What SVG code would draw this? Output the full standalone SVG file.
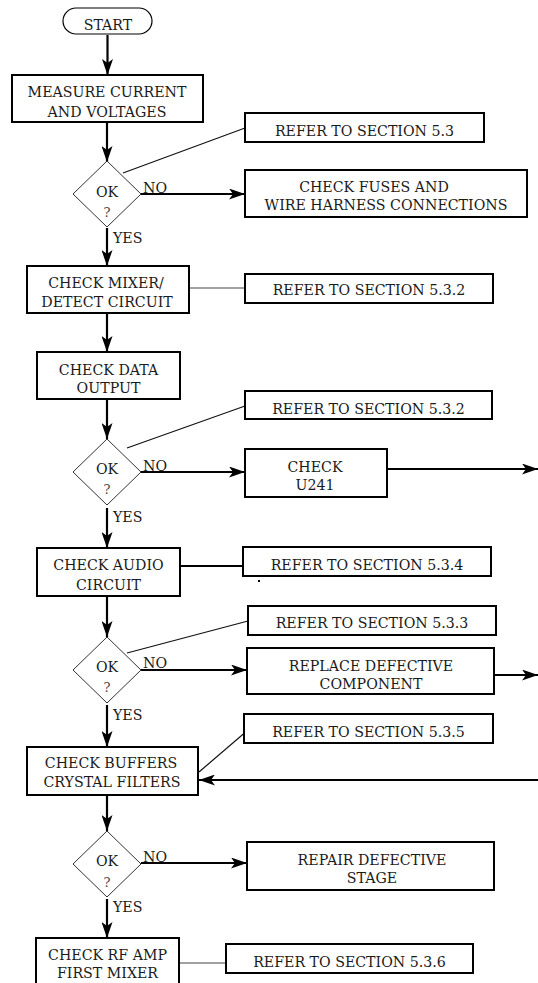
<svg xmlns="http://www.w3.org/2000/svg" width="538" height="983" viewBox="0 0 538 983">
<style>
text{font-family:'DejaVu Serif',serif;font-size:14.2px;fill:#1a1a1a;text-anchor:middle}
.box{fill:#fff;stroke:#000;stroke-width:2}
.dia{fill:#fff;stroke:#333;stroke-width:1}
.pill{fill:#fff;stroke:#000;stroke-width:1.2}
.flow{fill:none;stroke:#000;stroke-width:2.2}
.ref{fill:none;stroke:#111;stroke-width:1.2}
.refg{fill:none;stroke:#444;stroke-width:1.2}
.lbl{text-anchor:start}
.q{font-size:13px;fill:#444}
</style>
<defs>
<marker id="ah" viewBox="0 0 16 11" refX="16" refY="5.5" markerWidth="16" markerHeight="11" markerUnits="userSpaceOnUse" orient="auto">
<path d="M0,0 L16,5.5 L0,11 L4,5.5 z" fill="#000"/>
</marker>
</defs>
<rect width="538" height="983" fill="#fff"/>

<g id="connectors">
<line class="flow" x1="107.5" y1="35" x2="107.5" y2="75" marker-end="url(#ah)"/>
<line class="flow" x1="107" y1="122" x2="107" y2="162" marker-end="url(#ah)"/>
<line class="flow" x1="141" y1="194" x2="245" y2="194" marker-end="url(#ah)"/>
<line class="ref" x1="123" y1="173" x2="245" y2="128"/>
<line class="flow" x1="107" y1="228" x2="107" y2="266" marker-end="url(#ah)"/>
<line class="refg" x1="189" y1="288" x2="245" y2="288"/>
<line class="flow" x1="107" y1="313" x2="107" y2="352" marker-end="url(#ah)"/>
<line class="flow" x1="107" y1="399" x2="107" y2="439" marker-end="url(#ah)"/>
<line class="ref" x1="127" y1="448" x2="245" y2="406"/>
<line class="flow" x1="141" y1="472" x2="245" y2="472" marker-end="url(#ah)"/>
<line class="flow" x1="387" y1="469" x2="538" y2="469" marker-end="url(#ah)"/>
<line class="flow" x1="107" y1="508" x2="107" y2="548" marker-end="url(#ah)"/>
<line class="flow" x1="180" y1="566" x2="243" y2="566"/>
<line class="flow" x1="107" y1="596" x2="107" y2="637" marker-end="url(#ah)"/>
<line class="ref" x1="127" y1="653" x2="248" y2="621"/>
<line class="flow" x1="141" y1="670" x2="247" y2="670" marker-end="url(#ah)"/>
<line class="flow" x1="494" y1="675" x2="538" y2="675" marker-end="url(#ah)"/>
<line class="flow" x1="107" y1="705" x2="107" y2="747" marker-end="url(#ah)"/>
<line class="ref" x1="199" y1="772" x2="248" y2="730"/>
<line class="flow" x1="538" y1="780" x2="199" y2="780" marker-end="url(#ah)"/>
<line class="flow" x1="107" y1="795" x2="107" y2="831" marker-end="url(#ah)"/>
<line class="flow" x1="141" y1="863" x2="247" y2="863" marker-end="url(#ah)"/>
<line class="flow" x1="107" y1="899" x2="107" y2="938" marker-end="url(#ah)"/>
<line class="refg" x1="179" y1="963" x2="226" y2="963"/>
<rect x="258" y="580" width="2" height="2" fill="#000"/>
</g>

<g id="start"><rect class="pill" x="63" y="8" width="89" height="26" rx="13"/><text x="108" y="30">START</text></g>

<g id="measure"><rect class="box" x="12" y="75" width="191" height="47"/><text x="107" y="96.5">MEASURE CURRENT</text><text x="107" y="117">AND VOLTAGES</text></g>

<g id="dec1"><path class="dia" d="M107,161 L141,194 L107,227 L73,194 z"/><text x="107" y="197">OK</text><text class="q" x="107" y="217">?</text><text class="lbl" x="143" y="193">NO</text><text class="lbl" x="113" y="243">YES</text></g>

<g id="ref53"><rect class="box" x="245" y="113" width="239" height="29"/><text x="364.5" y="136">REFER TO SECTION 5.3</text></g>

<g id="fuses"><rect class="box" x="245" y="170" width="282" height="47"/><text x="374" y="192">CHECK FUSES AND</text><text x="386" y="210">WIRE HARNESS CONNECTIONS</text></g>

<g id="mixer"><rect class="box" x="27" y="266" width="162" height="47"/><text x="106" y="288">CHECK MIXER/</text><text x="107" y="307">DETECT CIRCUIT</text></g>

<g id="ref532a"><rect class="box" x="245" y="274" width="248" height="29"/><text x="369" y="295">REFER TO SECTION 5.3.2</text></g>

<g id="data"><rect class="box" x="37" y="352" width="143" height="47"/><text x="108.5" y="375">CHECK DATA</text><text x="108.5" y="393">OUTPUT</text></g>

<g id="ref532b"><rect class="box" x="245" y="391" width="247" height="28"/><text x="368.5" y="414">REFER TO SECTION 5.3.2</text></g>

<g id="dec2"><path class="dia" d="M107,439 L141,472 L107,505 L73,472 z"/><text x="107" y="474">OK</text><text class="q" x="107" y="494">?</text><text class="lbl" x="143" y="471">NO</text><text class="lbl" x="113" y="522">YES</text></g>

<g id="u241"><rect class="box" x="245" y="449" width="142" height="48"/><text x="315" y="472">CHECK</text><text x="315" y="490">U241</text></g>

<g id="audio"><rect class="box" x="37" y="548" width="143" height="48"/><text x="108.5" y="570">CHECK AUDIO</text><text x="108.5" y="590">CIRCUIT</text></g>

<g id="ref534"><rect class="box" x="243" y="547" width="248" height="29"/><text x="367" y="570">REFER TO SECTION 5.3.4</text></g>

<g id="dec3"><path class="dia" d="M107,637 L141,670 L107,703 L73,670 z"/><text x="107" y="672">OK</text><text class="q" x="107" y="692">?</text><text class="lbl" x="143" y="668">NO</text><text class="lbl" x="113" y="720">YES</text></g>

<g id="ref533"><rect class="box" x="248" y="606" width="248" height="29"/><text x="372" y="628">REFER TO SECTION 5.3.3</text></g>

<g id="replace"><rect class="box" x="247" y="648" width="247" height="46"/><text x="371" y="671">REPLACE DEFECTIVE</text><text x="371" y="689">COMPONENT</text></g>

<g id="buffers"><rect class="box" x="27" y="747" width="171" height="48"/><text x="111" y="768">CHECK BUFFERS</text><text x="112" y="787">CRYSTAL FILTERS</text></g>

<g id="ref535"><rect class="box" x="244" y="714" width="249" height="29"/><text x="368.5" y="737">REFER TO SECTION 5.3.5</text></g>

<g id="dec4"><path class="dia" d="M107,831 L141,864 L107,897 L73,864 z"/><text x="107" y="866">OK</text><text class="q" x="107" y="887">?</text><text class="lbl" x="143" y="862">NO</text><text class="lbl" x="113" y="912">YES</text></g>

<g id="repair"><rect class="box" x="247" y="842" width="247" height="48"/><text x="372" y="865">REPAIR DEFECTIVE</text><text x="372" y="883">STAGE</text></g>

<g id="rfamp"><rect class="box" x="36" y="938" width="143" height="52"/><text x="107.5" y="960">CHECK RF AMP</text><text x="107.5" y="978">FIRST MIXER</text></g>

<g id="ref536"><rect class="box" x="226" y="944" width="247" height="29"/><text x="349.5" y="967">REFER TO SECTION 5.3.6</text></g>
</svg>
